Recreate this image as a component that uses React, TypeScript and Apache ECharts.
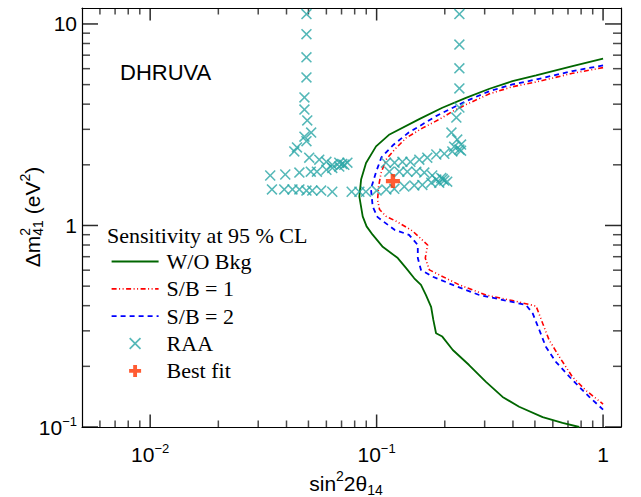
import React, { useEffect, useRef } from 'react';
import * as echarts from 'echarts';

const X_MIN = 0.005;
const X_MAX = 1.2;
const Y_MIN = 0.1;
const Y_MAX = 12;

const xMajorTicks = [0.01, 0.1, 1];
const yMajorTicks = [0.1, 1, 10];
const xMinorTicks = [0.006, 0.007, 0.008, 0.009, 0.02, 0.03, 0.04, 0.05, 0.06, 0.07, 0.08, 0.09, 0.2, 0.3, 0.4, 0.5, 0.6, 0.7, 0.8, 0.9];
const yMinorTicks = [0.2, 0.3, 0.4, 0.5, 0.6, 0.7, 0.8, 0.9, 2, 3, 4, 5, 6, 7, 8, 9];

const woBkg = [
  [1.0, 6.73], [0.733, 6.18], [0.506, 5.56], [0.398, 5.2], [0.315, 4.77], [0.248, 4.3], [0.195, 3.84],
  [0.155, 3.38], [0.114, 2.83], [0.0994, 2.47], [0.0898, 2.04], [0.0854, 1.69], [0.0839, 1.39],
  [0.0868, 1.11], [0.0903, 0.99], [0.096, 0.9], [0.106, 0.787], [0.124, 0.689], [0.135, 0.614],
  [0.1466, 0.547], [0.157, 0.507], [0.165, 0.452], [0.174, 0.395], [0.178, 0.34], [0.183, 0.292],
  [0.195, 0.281], [0.217, 0.241], [0.256, 0.203], [0.304, 0.1675], [0.36, 0.141], [0.426, 0.126],
  [0.541, 0.112], [0.662, 0.1047], [0.785, 0.1],
];

const sb1 = [
  [1.0, 6.07], [0.733, 5.69], [0.506, 5.15], [0.398, 4.88], [0.315, 4.5], [0.248, 3.98], [0.217, 3.69],
  [0.189, 3.36], [0.16, 3.05], [0.135, 2.72], [0.12, 2.38], [0.11, 2.12], [0.1046, 1.82], [0.102, 1.56],
  [0.101, 1.34], [0.103, 1.2], [0.11, 1.11], [0.122, 1.05], [0.144, 0.94], [0.168, 0.8], [0.164, 0.689],
  [0.171, 0.602], [0.189, 0.569], [0.232, 0.507], [0.304, 0.452], [0.398, 0.424], [0.506, 0.398],
  [0.541, 0.327], [0.578, 0.27], [0.641, 0.223], [0.733, 0.177], [0.839, 0.152], [1.0, 0.13],
];

const sb2 = [
  [1.0, 6.23], [0.733, 5.84], [0.506, 5.3], [0.398, 5.01], [0.315, 4.64], [0.248, 4.14], [0.217, 3.84],
  [0.183, 3.49], [0.1545, 3.11], [0.139, 2.9], [0.118, 2.5], [0.105, 2.18], [0.0994, 1.84], [0.0944, 1.52],
  [0.0961, 1.24], [0.101, 1.1], [0.12, 0.952], [0.139, 0.899], [0.152, 0.8], [0.152, 0.689], [0.157, 0.602],
  [0.177, 0.557], [0.217, 0.507], [0.284, 0.452], [0.372, 0.424], [0.457, 0.403], [0.489, 0.366],
  [0.523, 0.303], [0.559, 0.25], [0.62, 0.21], [0.733, 0.171], [0.869, 0.141], [1.0, 0.122],
];

const raa = [
  [0.049, 11.2], [0.049, 8.9], [0.049, 6.83], [0.049, 5.43], [0.048, 4.32], [0.048, 3.76], [0.0494, 3.32],
  [0.0514, 2.89], [0.048, 2.76], [0.049, 2.62], [0.0445, 2.44], [0.0433, 2.33],
  [0.0504, 2.17], [0.0558, 2.12], [0.06, 2.07], [0.0637, 2.0], [0.0684, 2.05], [0.072, 2.0], [0.0743, 2.05], [0.0705, 2.02],
  [0.0339, 1.77], [0.0395, 1.79], [0.0456, 1.83], [0.0512, 1.85], [0.0545, 1.85], [0.06, 1.89], [0.0637, 1.93], [0.0684, 1.96],
  [0.0345, 1.51], [0.0391, 1.51], [0.0425, 1.51], [0.0456, 1.51], [0.049, 1.49], [0.052, 1.49], [0.0569, 1.49],
  [0.0637, 1.47], [0.0776, 1.47], [0.0839, 1.47], [0.0897, 1.47], [0.1, 1.49], [0.1104, 1.51], [0.1197, 1.52],
  [0.1325, 1.56], [0.1467, 1.58], [0.1592, 1.59], [0.1744, 1.63],
  [0.1138, 1.85], [0.126, 1.85], [0.1366, 1.85], [0.1497, 1.85], [0.1624, 1.83], [0.176, 1.77],
  [0.1835, 1.69], [0.193, 1.72], [0.199, 1.67], [0.189, 1.63], [0.205, 1.65], [0.196, 1.7],
  [0.11, 2.05], [0.12, 2.05], [0.13, 2.07], [0.141, 2.07], [0.1544, 2.12], [0.1674, 2.17], [0.1835, 2.25],
  [0.199, 2.27], [0.216, 2.33], [0.236, 2.35],
  [0.232, 11.2], [0.232, 7.9], [0.232, 6.02], [0.232, 4.79], [0.232, 3.85], [0.225, 3.43], [0.214, 2.89],
  [0.227, 2.67], [0.236, 2.52], [0.232, 2.38], [0.22, 2.46],
];

const bestFit = [[0.118, 1.66]];

const seriesNames = ['W/O Bkg', 'S/B = 1', 'S/B = 2', 'RAA', 'Best fit'];
const legendTitle = 'Sensitivity at 95 % CL';
const experimentLabel = 'DHRUVA';

const CROSS = 'path://M0,1L1,0L5,4L9,0L10,1L6,5L10,9L9,10L5,6L1,10L0,9L4,5Z';
const PLUS = 'path://M3.4,0L6.6,0L6.6,3.4L10,3.4L10,6.6L6.6,6.6L6.6,10L3.4,10L3.4,6.6L0,6.6L0,3.4L3.4,3.4Z';

const SANS = 'Liberation Sans';
const SERIF = 'Liberation Serif';

function tickFormatter(v: number): string {
  const l = Math.log10(v);
  const e = Math.round(l);
  if (Math.abs(l - e) > 1e-6) return '';
  if (e === 0) return '{b|1}';
  if (e === 1) return '{b|10}';
  return '{b|10}{s|' + (e < 0 ? '\u2212' : '') + Math.abs(e) + '}';
}

const labelRich = {
  b: { fontSize: 21, lineHeight: 25, fontFamily: SANS, color: '#000' },
  s: { fontSize: 13, lineHeight: 12, fontFamily: SANS, color: '#000', verticalAlign: 'top' },
};

export default function App() {
  const ref = useRef<HTMLDivElement>(null);
  useEffect(() => {
    if (!ref.current) return;
    const chart = echarts.init(ref.current, null, { renderer: 'svg' });

    const canvas = document.createElement('canvas');
    const ctx = canvas.getContext('2d') as CanvasRenderingContext2D;
    const tw = (t: string, fs: number) => {
      ctx.font = `${fs}px "${SANS}"`;
      return ctx.measureText(t).width;
    };
    const FS = 21;
    const SFS = 14;
    const C = 0.3465;
    const mk = (t: string, fs: number, x: number, y: number) => ({
      type: 'text',
      x,
      y,
      silent: true,
      style: { text: t, fontSize: fs, fontFamily: SANS, fill: '#000', align: 'left', verticalAlign: 'middle' },
    });

    // x-axis name: sin^2 2θ_14
    const xParts = [
      { t: 'sin', fs: FS, dy: 0 },
      { t: '2', fs: SFS, dy: -10 },
      { t: '2θ', fs: FS, dy: 0 },
      { t: '14', fs: SFS, dy: 4 },
    ];
    const xTotal = xParts.reduce((s, p) => s + tw(p.t, p.fs), 0);
    let cx = 346 - xTotal / 2;
    const xBase = 491;
    const xNameChildren = xParts.map((p) => {
      const el = mk(p.t, p.fs, cx, xBase + p.dy - C * p.fs);
      cx += tw(p.t, p.fs);
      return el;
    });

    // y-axis name: Δm^2_41 (eV^2), rotated, with stacked super/subscript
    const wDm = tw('Δm', FS);
    const wStack = Math.max(tw('2', SFS), tw('41', SFS));
    const wPar = tw(' (eV', FS);
    const wSup = tw('2', SFS);
    const wClose = tw(')', FS);
    const yTotal = wDm + wStack + wPar + wSup + wClose;
    let lx = -yTotal / 2;
    const yChildren: any[] = [];
    yChildren.push(mk('Δm', FS, lx, -C * FS));
    lx += wDm;
    yChildren.push(mk('2', SFS, lx, -10 - C * SFS));
    yChildren.push(mk('41', SFS, lx, 3 - C * SFS));
    lx += wStack;
    yChildren.push(mk(' (eV', FS, lx, -C * FS));
    lx += wPar;
    yChildren.push(mk('2', SFS, lx, -10 - C * SFS));
    lx += wSup;
    yChildren.push(mk(')', FS, lx, -C * FS));

    const baseGraphics: any[] = [
      {
        type: 'text',
        x: 120,
        y: 72,
        silent: true,
        style: { text: experimentLabel, fontSize: 22, fontFamily: SANS, fill: '#000', align: 'left', verticalAlign: 'middle' },
      },
      {
        type: 'text',
        x: 107,
        y: 235,
        silent: true,
        style: { text: legendTitle, fontSize: 22, fontFamily: SERIF, fill: '#000', align: 'left', verticalAlign: 'middle' },
      },
      { type: 'group', silent: true, children: xNameChildren },
      { type: 'group', x: 39.5, y: 217, rotation: Math.PI / 2, silent: true, children: yChildren },
    ];

    const axisLine = { show: true, lineStyle: { color: '#000', width: 1.2 } };

    const option: any = {
      animation: false,
      grid: { left: 82, right: 20, top: 8, bottom: 70 },
      xAxis: [
        {
          type: 'log', logBase: 10, min: X_MIN, max: X_MAX, position: 'bottom',
          splitLine: { show: false },
          axisLine,
          axisTick: { show: false },
          axisLabel: { show: true, margin: 15, formatter: tickFormatter, rich: labelRich },
        },
        {
          type: 'log', logBase: 10, min: X_MIN, max: X_MAX, position: 'top',
          splitLine: { show: false },
          axisLine,
          axisTick: { show: false },
          axisLabel: { show: false },
        },
      ],
      yAxis: [
        {
          type: 'log', logBase: 10, min: Y_MIN, max: Y_MAX, position: 'left',
          splitLine: { show: false },
          axisLine,
          axisTick: { show: false },
          axisLabel: { show: true, margin: 5, formatter: tickFormatter, rich: labelRich },
        },
        {
          type: 'log', logBase: 10, min: Y_MIN, max: Y_MAX, position: 'right',
          splitLine: { show: false },
          axisLine,
          axisTick: { show: false },
          axisLabel: { show: false },
        },
      ],
      legend: {
        orient: 'vertical',
        left: 110.7,
        top: 250.5,
        padding: 0,
        itemWidth: 47,
        itemHeight: 12,
        itemGap: 5.35,
        selectedMode: false,
        data: seriesNames,
        lineStyle: { width: 'inherit' },
        textStyle: { fontFamily: SERIF, fontSize: 22, color: '#000', lineHeight: 12, padding: [0, 0, 0, 3] },
      },
      graphic: baseGraphics,
      series: [
        { name: 'W/O Bkg', type: 'line', data: woBkg, symbol: 'none', showSymbol: false, lineStyle: { color: '#006600', width: 1.8, type: 'solid' }, itemStyle: { color: 'rgba(0,0,0,0)' }, z: 4 },
        { name: 'S/B = 1', type: 'line', data: sb1, symbol: 'none', showSymbol: false, lineStyle: { color: '#ff0000', width: 1.6, type: [5, 2.5, 1, 2.5, 1, 2.5] }, itemStyle: { color: 'rgba(0,0,0,0)' }, z: 4 },
        { name: 'S/B = 2', type: 'line', data: sb2, symbol: 'none', showSymbol: false, lineStyle: { color: '#0000ff', width: 1.8, type: [5, 4] }, itemStyle: { color: 'rgba(0,0,0,0)' }, z: 4 },
        { name: 'RAA', type: 'scatter', data: raa, symbol: CROSS, symbolSize: 11, itemStyle: { color: '#2aa6a6' }, z: 5 },
        { name: 'Best fit', type: 'scatter', data: bestFit, symbol: PLUS, symbolSize: 14, itemStyle: { color: '#ff3300' }, z: 6 },
      ],
    };

    chart.setOption(option);

    // Inward ticks on all four sides, placed through the chart's own log scales.
    const P = (x: number, y: number) => chart.convertToPixel({ xAxisIndex: 0, yAxisIndex: 0 }, [x, y]) as number[];
    const tickEls: any[] = [];
    const rect = (x: number, y: number, w: number, h: number, fill: string) => ({
      type: 'rect',
      shape: { x, y, width: w, height: h },
      style: { fill },
    });
    const TW = 1.5;
    const addX = (v: number, len: number, fill: string) => {
      const b = P(v, Y_MIN);
      const t = P(v, Y_MAX);
      const px = b[0] - TW / 2;
      tickEls.push(rect(px, b[1] - len, TW, len, fill));
      tickEls.push(rect(px, t[1], TW, len, fill));
    };
    const addY = (v: number, len: number, fill: string) => {
      const l = P(X_MIN, v);
      const r = P(X_MAX, v);
      const py = l[1] - TW / 2;
      tickEls.push(rect(l[0], py, len, TW, fill));
      tickEls.push(rect(r[0] - len, py, len, TW, fill));
    };
    xMinorTicks.forEach((v) => addX(v, 6.5, '#4a4a4a'));
    yMinorTicks.forEach((v) => addY(v, 8, '#4a4a4a'));
    xMajorTicks.forEach((v) => addX(v, 12.5, '#2b2b2b'));
    yMajorTicks.forEach((v) => addY(v, 16, '#2b2b2b'));

    chart.setOption({ graphic: [...baseGraphics, ...tickEls] });

    return () => chart.dispose();
  }, []);

  return <div ref={ref} style={{ position: 'absolute', left: 0, top: 0, width: 641, height: 497 }} />;
}
